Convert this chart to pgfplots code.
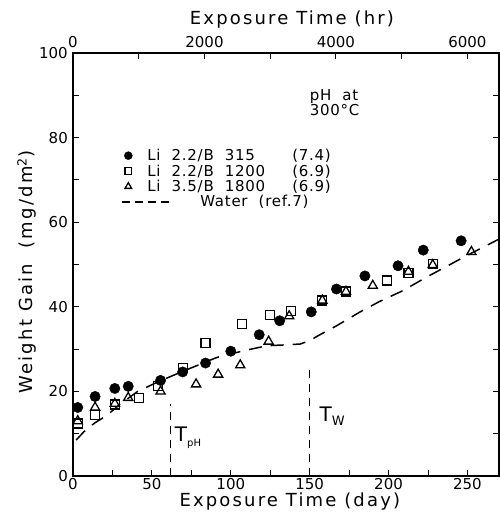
\documentclass[border=0pt]{standalone}
\usepackage{fontspec}
\setmainfont{DejaVu Sans}
\newfontfamily\labfont[LetterSpace=12]{DejaVu Sans}
\newfontfamily\legfont[LetterSpace=5]{DejaVu Sans}
\usepackage{pgfplots}
\pgfplotsset{compat=1.18}

\pgfplotsset{
  markimg/.style={legend image code/.code={
    \path[draw=none, fill=none] (-6pt,-6pt) rectangle (6pt,6pt);
    \draw[mark repeat=1, mark size=#1] plot coordinates {(-2pt,0pt)};}},
}

\begin{document}
\begin{tikzpicture}
\begin{axis}[
  scale only axis,
  width=426pt, height=423pt,
  xmin=0, xmax=270, ymin=0, ymax=100,
  xtick={0,50,...,250}, minor xtick={25,75,...,225},
  ytick={0,20,...,100}, minor ytick={10,30,...,90},
  xtick pos=bottom, ytick pos=both, yticklabel pos=left,
  tick align=inside,
  major tick length=6pt, minor tick length=6pt,
  every tick/.style={black, line width=1pt},
  axis line style={line width=1.4pt},
  /pgf/number format/assume math mode=true,
  tick label style={font=\fontsize{15}{15}\selectfont},
  xticklabel style={inner sep=0pt, yshift=-2pt},
  yticklabel style={inner sep=0pt, xshift=-5pt},
  xlabel={Exposure Time (day)},
  ylabel={Weight Gain\ \ (mg/dm\textsuperscript{2})},
  label style={font=\labfont\fontsize{18}{18}\selectfont},
  xlabel style={at={(axis description cs:0.509,-0.0615)}, anchor=center},
  ylabel style={at={(axis description cs:-0.108,0.482)}, anchor=center},
  legend style={at={(axis description cs:0.12,0.773)}, anchor=north west,
    draw=none, fill=none, inner sep=0pt,
    nodes={inner sep=0pt}, column sep=11pt, row sep=2.5pt,
    font=\legfont\fontsize{15}{15}\selectfont},
  legend cell align=left,
]
% Li 2.2 / B 315 (filled circles)
\addplot[only marks, mark=*, mark size=5.2pt, black, markimg=4pt]
  coordinates {(3,16.2)(14,18.8)(26.5,20.7)(35,21.2)(55.5,22.6)(69.5,24.6)
  (84,26.7)(100,29.5)(118,33.4)(131,36.7)(151,38.8)(167,44.2)(185,47.3)
  (206,49.7)(222,53.4)(246,55.6)};
\addlegendentry{\makebox[145pt][l]{Li\ \ 2.2/B\ \ 315}(7.4)}
% Li 2.2 / B 1200 (open squares)
\addplot[only marks, mark=square, mark size=4.5pt, black, line width=1.3pt, markimg=3.3pt]
  coordinates {(3,12.4)(14,14.5)(26.5,16.9)(42,18.5)(54,21.3)(69.5,25.5)
  (84,31.4)(107,36)(125,38)(138,39)(158,41.5)(173,43.6)(199,46.2)
  (212.6,48)(228,50.2)};
\addlegendentry{\makebox[145pt][l]{Li\ \ 2.2/B\ \ 1200}(6.9)}
% Li 3.5 / B 1800 (open triangles)
\addplot[only marks, mark=triangle, mark size=5.3pt, black, line width=1.3pt, markimg=3.8pt]
  coordinates {(3,13)(14,16.2)(26.5,17.1)(35,18.5)(55.5,20)(78,21.7)(92,24)
  (106,26.2)(124,31.8)(137,37.8)(158,41.5)(173,43.6)(190,45)(212.6,48.3)
  (228,49.9)(252.5,53)};
\addlegendentry{\makebox[145pt][l]{Li\ \ 3.5/B\ \ 1800}(6.9)}
% Water (ref. 7)
\addplot[black, line width=1.5pt, dash pattern=on 13pt off 9pt,
  legend image code/.code={
    \path[draw=none] (-6pt,-6pt) rectangle (6pt,6pt);
    \draw[overlay, dash pattern=on 8pt off 5pt] (-8pt,0pt) -- (41pt,0pt);}]
  coordinates {(2,8.5)(7,10.5)(14,12.6)(21,14.2)(30,17)(41,20)(53,22.1)
  (68,24.5)(91,28)(108,29.6)(123,30.8)(135,31)(144,31.2)(150,32)
  (156,33.3)(167,35.5)(182,38.8)(194,41.2)(209,43.8)(224,47)(234,49)
  (249,52)(270,56)};
\addlegendentry{\hspace{53pt}Water\ \ (ref.7)}
% transition times
\addplot[black, line width=1.2pt, dash pattern=on 8pt off 6pt, forget plot]
  coordinates {(62,0)(62,17)};
\addplot[black, line width=1.2pt, dash pattern=on 8pt off 6pt, forget plot]
  coordinates {(150,0)(150,25.5)};
\node[anchor=north west, inner sep=0pt, font=\fontsize{20}{20}\selectfont]
  at (axis cs:64.5,11.6) {T\raisebox{-5pt}{\fontsize{10}{10}\selectfont pH}};
\node[anchor=north west, inner sep=0pt, font=\fontsize{20}{20}\selectfont]
  at (axis cs:156.2,16.3) {T\raisebox{-4pt}{\fontsize{13}{13}\selectfont W}};
\node[anchor=north west, inner sep=0pt, align=left,
  font=\legfont\fontsize{15}{13}\selectfont]
  at (axis cs:150,91.5) {pH\ \ at\\300\textdegree C};
\end{axis}
\begin{axis}[
  scale only axis,
  width=426pt, height=423pt,
  xmin=0, xmax=6480, ymin=0, ymax=100,
  axis x line*=top, axis y line=none,
  xtick={0,2000,4000,6000}, minor xtick={1000,3000,5000},
  tick align=inside,
  major tick length=6pt, minor tick length=6pt,
  every tick/.style={black, line width=1pt},
  axis line style={line width=1.4pt},
  /pgf/number format/assume math mode=true,
  /pgf/number format/set thousands separator={},
  tick label style={font=\fontsize{15}{15}\selectfont},
  xticklabel style={inner sep=0pt, yshift=5pt},
  xlabel={Exposure Time (hr)},
  label style={font=\labfont\fontsize{18}{18}\selectfont},
  xlabel style={at={(axis description cs:0.514,1.078)}, anchor=center},
]
\end{axis}
\pgfresetboundingbox
\useasboundingbox (-73pt,-46pt) rectangle (427pt,476pt);
\end{tikzpicture}
\end{document}
